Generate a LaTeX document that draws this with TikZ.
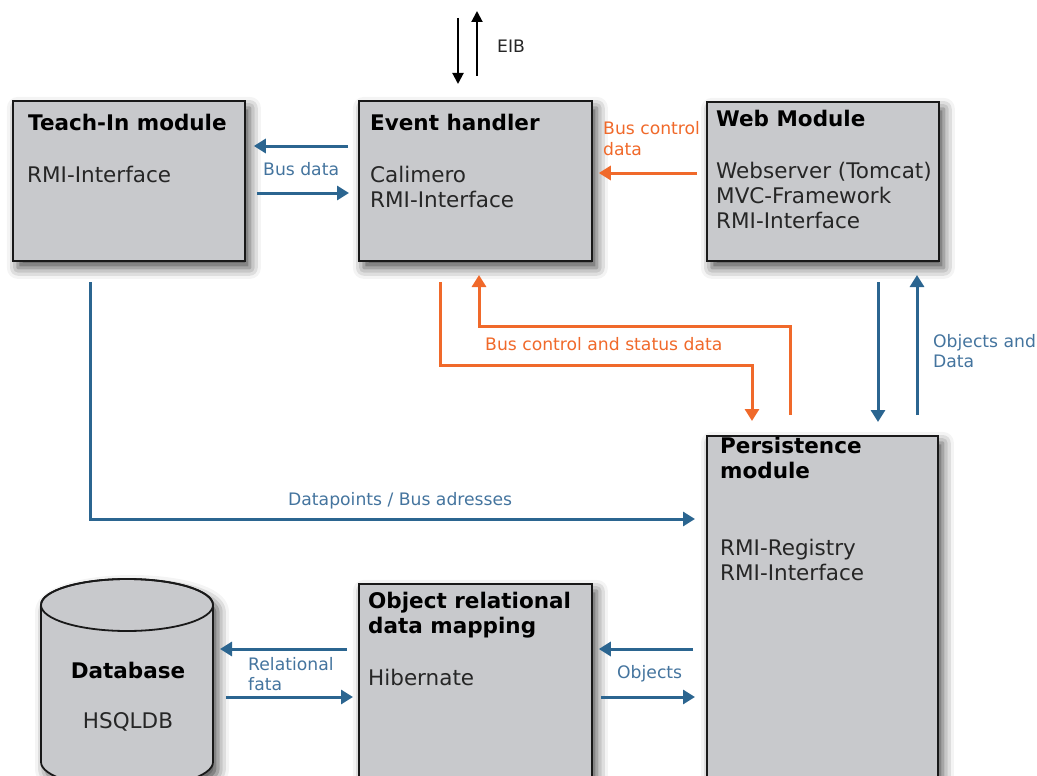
\documentclass[tikz,border=0pt]{standalone}
\usepackage{fontspec}
\setmainfont{DejaVu Sans}
\usetikzlibrary{arrows.meta,shadows.blur}
\definecolor{boxgray}{HTML}{C8C9CC}
\definecolor{eblue}{HTML}{2B6590}
\definecolor{lblue}{HTML}{44749E}
\definecolor{eorange}{HTML}{F0692A}
\definecolor{txt}{HTML}{262626}
\begin{document}
\begin{tikzpicture}[x=1pt,y=-1pt,
  shad/.style={blur shadow={shadow xshift=5pt,shadow yshift=-7pt,shadow blur radius=11pt,shadow opacity=70}},
  box/.style={draw=black!90,line width=1.8pt,fill=boxgray,anchor=north west,inner sep=0pt,shad},
  ttl/.style={anchor=base west,inner sep=0pt,font=\fontsize{21.5}{25}\selectfont\bfseries,text=black},
  txl/.style={anchor=base west,inner sep=0pt,font=\fontsize{21.5}{25}\selectfont,text=txt},
  lb/.style={anchor=base west,inner sep=0pt,font=\fontsize{17.2}{20}\selectfont,text=lblue},
  lo/.style={anchor=base west,inner sep=0pt,font=\fontsize{17.2}{20}\selectfont,text=eorange},
  barrow/.style={draw=eblue,line width=3pt,-{Triangle[width=14pt,length=12pt]}},
  oarrow/.style={draw=eorange,line width=3pt,-{Triangle[width=14pt,length=12pt]}},
  karrow/.style={draw=black,line width=2pt,-{Triangle[width=11pt,length=11pt]}}]
\useasboundingbox (0,0) rectangle (1037,776);

% boxes
\node[box,minimum width=232pt,minimum height=160pt] (teach) at (12,100) {};
\node[box,minimum width=233pt,minimum height=160pt] (event) at (358,100) {};
\node[box,minimum width=232pt,minimum height=159pt] (web) at (706,101) {};
\node[box,minimum width=231pt,minimum height=345pt] (pers) at (706,435) {};
\node[box,minimum width=233pt,minimum height=195pt] (orm) at (358,583) {};

% database cylinder
\path[shad,fill=boxgray,draw=black!90,line width=1.8pt]
  (41,605) -- (41,762) arc[start angle=180,end angle=360,x radius=86pt,y radius=26pt]
  -- (213,605) arc[start angle=0,end angle=180,x radius=86pt,y radius=26pt] -- cycle;
\draw[black!90,line width=1.8pt] (127,605) ellipse[x radius=86pt,y radius=26pt];
\node[inner sep=0pt,minimum width=172pt,minimum height=170pt] (db) at (127,690) {};

% texts in boxes
\node[ttl] (t1) at (28,130) {Teach-In module};
\node[txl] (t2) at (27,182) {RMI-Interface};
\node[ttl] (e1) at (370,130) {Event handler};
\node[txl] (e2) at (370,182) {Calimero};
\node[txl] (e3) at (370,207) {RMI-Interface};
\node[ttl] (w1) at (716,127) {Web Module};
\node[txl] (w2) at (716,178) {Webserver (Tomcat)};
\node[txl] (w3) at (716,203) {MVC-Framework};
\node[txl] (w4) at (716,228) {RMI-Interface};
\node[ttl] (p1) at (720,453) {Persistence};
\node[ttl] (p2) at (720,478) {module};
\node[txl] (p3) at (720,555) {RMI-Registry};
\node[txl] (p4) at (720,580) {RMI-Interface};
\node[ttl] (o1) at (368,608) {Object relational};
\node[ttl] (o2) at (368,633) {data mapping};
\node[txl] (o3) at (368,685) {Hibernate};
\node[ttl,anchor=base] (d1) at (128,678) {Database};
\node[txl,anchor=base] (d2) at (128,728) {HSQLDB};

% connector labels
\node[lb] (lbus) at (263,175) {Bus data};
\node[lb,text=txt] (leib) at (497,53) {EIB};
\node[lo] (lbc1) at (603,134) {Bus control};
\node[lo] (lbc2) at (603,155) {data};
\node[lo] (lbcs) at (485,350) {Bus control and status data};
\node[lb] (lod1) at (933,347) {Objects and};
\node[lb] (lod2) at (933,367) {Data};
\node[lb] (ldp) at (288,505) {Datapoints / Bus adresses};
\node[lb] (lobj) at (617,678) {Objects};
\node[lb] (lrel1) at (248,670) {Relational};
\node[lb] (lrel2) at (248,690) {fata};

% connector end points
\coordinate (eibTop1) at (458,18);
\coordinate (eibBot1) at (458,84);
\coordinate (eibBot2) at (477,76);
\coordinate (eibTop2) at (477,11);

% connectors
\draw[barrow] ([xshift=-10pt]event.west |- 0,146) -- ([xshift=8pt]teach.east |- 0,146);
\draw[barrow] ([xshift=11pt]teach.east |- 0,193) -- ([xshift=-9pt]event.west |- 0,193);
\draw[karrow] (eibTop1) -- (eibBot1);
\draw[karrow] (eibBot2) -- (eibTop2);
\draw[oarrow] ([xshift=-9pt]web.west |- 0,173) -- ([xshift=6pt]event.east |- 0,173);
\draw[oarrow] (440,282) -- (440,365) -- (752,365) -- (752,421);
\draw[oarrow] (790,415) -- (790,326) -- (479,326) -- (479,275);
\draw[barrow] (878,282) -- (878,422);
\draw[barrow] (917,415) -- (917,275);
\draw[barrow] (90,282) -- (90,519) -- ([xshift=-11pt]pers.west |- 0,519);
\draw[barrow] ([xshift=-13pt]pers.west |- 0,649) -- ([xshift=6pt]orm.east |- 0,649);
\draw[barrow] ([xshift=8pt]orm.east |- 0,697) -- ([xshift=-11pt]pers.west |- 0,697);
\draw[barrow] ([xshift=-11pt]orm.west |- 0,649) -- (220,649);
\draw[barrow] (226,697) -- ([xshift=-5pt]orm.west |- 0,697);
\end{tikzpicture}
\end{document}
